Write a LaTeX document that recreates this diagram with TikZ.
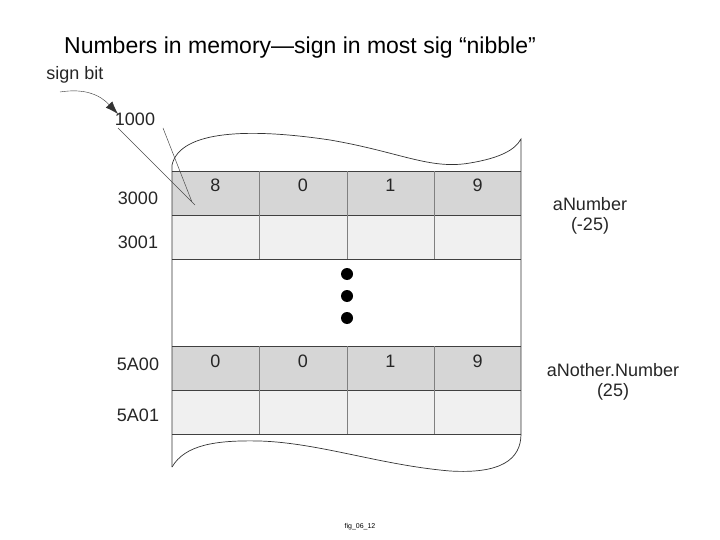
\documentclass[tikz,border=0pt]{standalone}
\usepackage{fontspec}
\setmainfont{Liberation Sans}
\usetikzlibrary{arrows.meta}
\begin{document}
\begin{tikzpicture}[x=1pt,y=-1pt,
  lbl/.style={font=\fontsize{18}{20}\selectfont,text=black!85,inner sep=1pt},
  cellt/.style={font=\fontsize{18}{20}\selectfont,text=black!85,anchor=base},
  dk/.style={fill=black!16},
  lt/.style={fill=black!6},
  grid/.style={draw=black!75,line width=0.8pt}]
\useasboundingbox (0,0) rectangle (720,540);
\fill[white] (0,0) rectangle (720,540);
\node[font=\fontsize{23}{26}\selectfont] (title) at (300,48) {Numbers in memory---sign in most sig “nibble”};
% cells
\fill[dk] (172,171) rectangle (521,215);
\fill[lt] (172,215) rectangle (521,259);
\fill[dk] (172,346) rectangle (521,390);
\fill[lt] (172,390) rectangle (521,434);
\foreach \y in {171,215,259,346,390,434} \draw[grid] (172,\y) -- (521,\y);
\foreach \x in {259,347,434} {\draw[grid,draw=black!50] (\x,171) -- (\x,259); \draw[grid,draw=black!50] (\x,346) -- (\x,434);}
% outline
\draw[black!80,line width=0.7pt] (172,467) -- (172,171) -- (172,165) .. controls (180,130) and (250,128) .. (330,140) .. controls (400,152) and (430,170) .. (470,163) .. controls (500,158) and (515,150) .. (521,139) -- (521,434);
\draw[black!80,line width=0.7pt] (172,467) .. controls (185,445) and (215,440) .. (260,441) .. controls (320,443) and (380,465) .. (450,471) .. controls (500,474) and (521,460) .. (521,434);
% dots
\foreach \y [count=\i] in {274,296,318} \fill (347,\y) circle (6) coordinate (d\i);
% texts
\node[cellt] (c1) at (215.5,192) {8};
\node[cellt] (c2) at (303,192) {0};
\node[cellt] (c3) at (390.5,192) {1};
\node[cellt] (c4) at (477.5,192) {9};
\node[cellt] (e1) at (215.5,367) {0};
\node[cellt] (e2) at (303,367) {0};
\node[cellt] (e3) at (390.5,367) {1};
\node[cellt] (e4) at (477.5,367) {9};
\node[lbl] (a1) at (138,198) {3000};
\node[lbl] (a2) at (138,242) {3001};
\node[lbl] (a3) at (138,364) {5A00};
\node[lbl] (a4) at (138,415) {5A01};
\node[lbl,align=center] (n1) at (590,216) {aNumber\\(-25)};
\node[lbl,align=center] (n2) at (613,382) {aNother.Number\\(25)};
\node[lbl] (sb) at (75,75) {sign bit};
\node[lbl] (k) at (135,119) {1000};
\node[font=\scriptsize] (fig) at (360,527) {fig\_06\_12};
\coordinate (s0) at (60,92);
\coordinate (tip) at (118,114);
\coordinate (p1) at (118,128);
\coordinate (p2) at (163,128);
\coordinate (q1) at (195,205);
\coordinate (q2) at (192,202);
\draw[black!80,-{Latex[length=13pt,width=9pt]}] (s0) .. controls (85,88) and (100,95) .. (tip);
\draw[black!70,line width=0.5pt] (p1) -- (q1) (p2) -- (q2);
\end{tikzpicture}
\end{document}
